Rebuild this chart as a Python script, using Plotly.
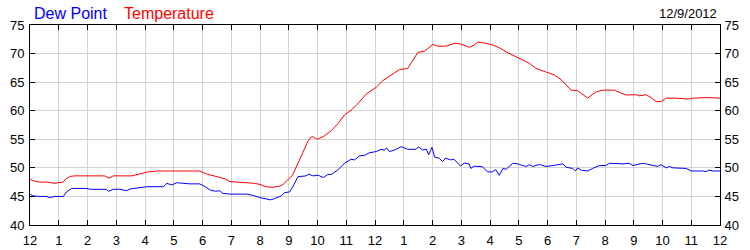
import plotly.graph_objects as go

# ---- data (hours after midnight, degrees F) ----
temp_hours = [0.0, 0.15, 0.33, 0.6, 0.85, 1.0, 1.15, 1.25, 1.4, 1.55, 2.6, 2.75, 2.9, 3.55, 3.75, 3.95,
              4.1, 4.4, 5.9, 6.1, 6.3, 6.5, 6.8, 6.95, 7.6, 7.8, 8.0, 8.2, 8.45, 8.68, 8.8, 8.91,
              9.05, 9.14, 9.23, 9.32, 9.49, 9.66, 9.78, 9.84, 9.92, 10.0, 10.24, 10.48, 10.7, 10.94,
              11.17, 11.4, 11.69, 12.04, 12.27, 12.62, 12.85, 13.14, 13.26, 13.49, 13.72, 13.85,
              14.01, 14.18, 14.48, 14.77, 14.95, 15.29, 15.45, 15.58, 15.87, 16.1, 16.33, 16.56,
              16.79, 17.03, 17.37, 17.6, 17.95, 18.05, 18.24, 18.48, 18.65, 18.82, 19.05, 19.19,
              19.4, 19.55, 19.69, 19.92, 20.33, 20.55, 20.74, 21.09, 21.2, 21.43, 21.6, 21.78,
              21.95, 22.13, 22.47, 22.9, 23.07, 23.52, 23.75, 24.0]
temp_values = [48.0, 47.7, 47.5, 47.5, 47.3, 47.4, 47.5, 48.1, 48.5, 48.6, 48.6, 48.2, 48.6, 48.6, 48.9, 49.1,
               49.3, 49.45, 49.45, 49.0, 48.7, 48.5, 48.05, 47.6, 47.45, 47.3, 47.1, 46.7, 46.6, 46.8, 47.1, 47.6,
               48.2, 48.75, 49.8, 50.8, 52.55, 54.6, 55.4, 55.45, 55.2, 55.0, 55.6, 56.5, 57.7, 59.25,
               60.1, 61.2, 62.9, 64.1, 65.25, 66.4, 67.2, 67.4, 68.3, 70.2, 70.4, 70.9,
               71.6, 71.3, 71.3, 71.8, 71.7, 71.1, 71.5, 72.0, 71.8, 71.5, 71.0, 70.3,
               69.75, 69.1, 68.3, 67.4, 66.8, 66.7, 66.25, 65.4, 64.5, 63.6, 63.5, 63.0,
               62.2, 62.8, 63.3, 63.6, 63.6, 63.1, 62.75, 62.8, 62.6, 62.8, 62.3, 61.6,
               61.6, 62.2, 62.2, 62.05, 62.2, 62.3, 62.2, 62.2]

dew_hours = [0.0, 0.1, 0.35, 0.55, 0.7, 0.87, 1.16, 1.27, 1.45, 1.95, 2.1, 2.65, 2.73, 2.9, 3.13, 3.36,
             3.48, 3.83, 4.06, 4.64, 4.76, 4.93, 5.1, 5.57, 5.9, 6.1, 6.27, 6.45, 6.6, 6.7, 6.95, 7.55,
             7.75, 8.0, 8.3, 8.36, 8.5, 8.74, 8.85, 9.03, 9.14, 9.32, 9.6, 9.7, 9.84, 10.03, 10.2,
             10.36, 10.48, 10.7, 10.94, 11.17, 11.29, 11.46, 11.64, 11.81, 12.04, 12.21, 12.33, 12.4,
             12.5, 12.67, 12.91, 13.14, 13.43, 13.51, 13.66, 13.78, 13.87, 13.98, 14.08, 14.23, 14.35,
             14.46, 14.63, 14.75, 14.98, 15.1, 15.27, 15.33, 15.45, 15.74, 15.91, 16.08, 16.2, 16.32,
             16.45, 16.56, 16.79, 16.97, 17.14, 17.26, 17.37, 17.49, 17.72, 17.95, 18.19, 18.42,
             18.53, 18.65, 18.88, 18.97, 19.05, 19.17, 19.4, 19.57, 19.8, 20.03, 20.15, 20.62, 20.85,
             20.97, 21.08, 21.31, 21.43, 21.66, 21.83, 21.95, 22.13, 22.24, 22.36, 22.82, 23.0, 23.4,
             23.52, 23.61, 23.75, 24.0]
dew_values = [45.4, 45.1, 45.0, 45.0, 44.8, 45.0, 45.0, 45.8, 46.4, 46.4, 46.25, 46.25, 45.9, 46.25, 46.25, 46.0,
              46.3, 46.6, 46.7, 46.7, 47.3, 47.0, 47.4, 47.2, 47.2, 46.7, 46.1, 45.9, 46.0, 45.55, 45.4, 45.4,
              45.2, 44.8, 44.5, 44.4, 44.6, 45.1, 45.65, 45.8, 46.7, 48.45, 48.6, 48.9, 48.6, 48.7, 48.3,
              48.85, 48.85, 49.6, 50.8, 51.5, 51.4, 52.1, 52.2, 52.65, 52.85, 53.25, 53.1, 53.5,
              52.85, 53.1, 53.7, 53.25, 53.25, 53.7, 53.1, 53.3, 52.3, 53.6, 51.85, 51.7, 51.1,
              51.7, 51.4, 51.5, 50.3, 50.85, 50.7, 49.9, 50.3, 50.2, 49.3, 49.3, 49.7, 48.7,
              49.9, 49.75, 50.8, 50.7, 50.4, 50.25, 50.55, 50.25, 50.6, 50.25, 50.4, 50.55,
              50.7, 50.1, 49.9, 49.45, 50.0, 49.6, 49.45, 49.9, 50.4, 50.4, 50.8, 50.7, 50.8,
              50.4, 50.55, 50.8, 50.7, 50.4, 50.25, 50.55, 50.0, 50.25, 50.0, 49.9, 49.45, 49.45,
              49.35, 49.6, 49.45, 49.45]

hour_ticks = list(range(0, 25))
hour_labels = ["12", "1", "2", "3", "4", "5", "6", "7", "8", "9", "10", "11",
               "12", "1", "2", "3", "4", "5", "6", "7", "8", "9", "10", "11", "12"]
date_label = "12/9/2012"

FONT = "Liberation Sans, Arial, sans-serif"

fig = go.Figure()
fig.add_trace(go.Scatter(x=dew_hours, y=dew_values, mode="lines", name="Dew Point",
                         line=dict(color="#0000ff", width=1), yaxis="y"))
fig.add_trace(go.Scatter(x=temp_hours, y=temp_values, mode="lines", name="Temperature",
                         line=dict(color="#ff0000", width=1), yaxis="y2"))

axis_common = dict(
    showline=True, linecolor="black", linewidth=1,
    ticks="inside", ticklen=5, tickcolor="black", tickwidth=1,
    zeroline=False, automargin=False,
    tickfont=dict(family=FONT, size=13, color="black"),
)

fig.update_layout(
    width=750, height=250,
    margin=dict(l=30, r=30, t=25, b=25, autoexpand=False),
    paper_bgcolor="white", plot_bgcolor="white",
    showlegend=False,
    xaxis=dict(range=[0, 24], tickmode="array", tickvals=hour_ticks, ticktext=hour_labels,
               showgrid=True, gridcolor="#d3d3d3", gridwidth=1, mirror="ticks",
               ticklabelstandoff=3, **axis_common),
    yaxis=dict(range=[40, 75], tickmode="linear", tick0=40, dtick=5,
               showgrid=True, gridcolor="#d3d3d3", gridwidth=1, ticklabelstandoff=2, **axis_common),
    yaxis2=dict(range=[40, 75], tickmode="linear", tick0=40, dtick=5, overlaying="y", side="right",
                showgrid=False, ticklabelstandoff=1, **axis_common),
    annotations=[
        dict(text="Dew Point", x=0, y=1, xref="paper", yref="paper", xanchor="left", yanchor="middle",
             xshift=2, yshift=12, showarrow=False, font=dict(family=FONT, size=16, color="#0000ff")),
        dict(text="Temperature", x=(123 - 30) / 690, y=1, xref="paper", yref="paper", xanchor="left",
             yanchor="middle", xshift=-1, yshift=12, showarrow=False,
             font=dict(family=FONT, size=16, color="#ff0000")),
        dict(text=date_label, x=1, y=1, xref="paper", yref="paper", xanchor="right", yanchor="middle",
             xshift=-1, yshift=12, showarrow=False, font=dict(family=FONT, size=13, color="black")),
    ],
)

fig.write_html("out.html", config={"displayModeBar": False})
